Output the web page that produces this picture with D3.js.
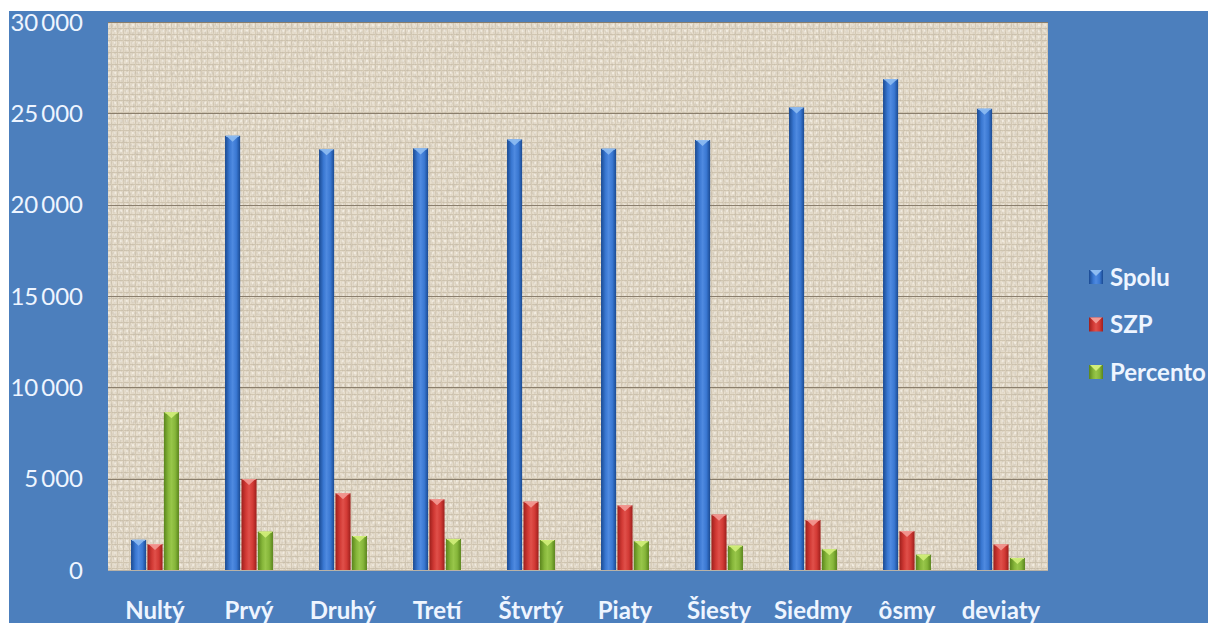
<!DOCTYPE html>
<html><head><meta charset="utf-8">
<script src="https://cdn.jsdelivr.net/npm/d3@7"></script>
<style>
html,body{margin:0;padding:0;background:#fff;overflow:hidden}
svg{display:block}
text{font-family:Lato,"Open Sans",sans-serif}
</style></head>
<body>
<svg id="c" width="1208" height="623"></svg>
<script>
const categories = ["Nultý","Prvý","Druhý","Tretí","Štvrtý","Piaty","Šiesty","Siedmy","ôsmy","deviaty"];
const seriesNames = ["Spolu","SZP","Percento"];
const spolu    = [1650, 23770, 23030, 23080, 23570, 23060, 23540, 25320, 26870, 25250];
const szp      = [1420, 4980, 4200, 3870, 3740, 3540, 3030, 2740, 2130, 1400];
const percento = [8630, 2100, 1860, 1700, 1640, 1570, 1330, 1130, 840, 660];
const yTicks = [0, 5000, 10000, 15000, 20000, 25000, 30000];

const seriesValues = [spolu, szp, percento];
const colors = [
  {edge:"#1a4a92", mid:"#3a78d2", light:"#4f8ae0", cap:"#8ebcf2"},
  {edge:"#9e1f1c", mid:"#d23a35", light:"#e0504a", cap:"#f39a94"},
  {edge:"#5a851c", mid:"#86b63a", light:"#98c64a", cap:"#d2ee7a"}
];

const svg = d3.select("#c");
const W = 1208, H = 623;
const m = {left:108, right:1048, top:22, bottom:570};

const defs = svg.append("defs");
const turb = defs.append("filter").attr("id","noise").attr("x",0).attr("y",0).attr("width","100%").attr("height","100%");
turb.append("feTurbulence").attr("type","fractalNoise").attr("baseFrequency","0.6 0.25").attr("numOctaves",2).attr("seed",3).attr("result","n");
turb.append("feColorMatrix").attr("type","matrix")
  .attr("values","0 0 0 0 0.45  0 0 0 0 0.40  0 0 0 0 0.32  0 0 0 -1.6 1.05");
const pat = defs.append("pattern").attr("id","weave").attr("width",6).attr("height",6).attr("patternUnits","userSpaceOnUse");
pat.append("rect").attr("width",6).attr("height",6).attr("fill","#e8dfcf");
pat.append("rect").attr("x",0).attr("y",4).attr("width",6).attr("height",1).attr("fill","#d2c7b2");
pat.append("rect").attr("x",3).attr("y",0).attr("width",1).attr("height",6).attr("fill","#d8cdb9");
pat.append("rect").attr("x",0).attr("y",0).attr("width",2).attr("height",2).attr("fill","#f2ece1");

colors.forEach((c,i)=>{
  const g = defs.append("linearGradient").attr("id","bar"+i).attr("x1","0").attr("x2","1").attr("y1","0").attr("y2","0");
  g.append("stop").attr("offset","0%").attr("stop-color",c.edge);
  g.append("stop").attr("offset","30%").attr("stop-color",c.mid);
  g.append("stop").attr("offset","50%").attr("stop-color",c.light);
  g.append("stop").attr("offset","75%").attr("stop-color",c.mid);
  g.append("stop").attr("offset","100%").attr("stop-color",c.edge);
});

svg.append("rect").attr("x",9).attr("y",11).attr("width",W-9).attr("height",H-11).attr("fill","#4c7fbd");
svg.append("rect").attr("x",m.left).attr("y",m.top).attr("width",m.right-m.left).attr("height",m.bottom-m.top).attr("fill","url(#weave)");
svg.append("rect").attr("x",m.left).attr("y",m.top).attr("width",m.right-m.left).attr("height",m.bottom-m.top).attr("filter","url(#noise)").attr("opacity",0.5);

const x0 = d3.scaleBand().domain(categories).range([m.left, m.right]).paddingInner(0.49).paddingOuter(0.245);
const x1 = d3.scaleBand().domain(d3.range(3)).range([0, x0.bandwidth()]).paddingInner(0.08);
const y = d3.scaleLinear().domain([0,30000]).range([m.bottom, m.top]);

svg.append("g").selectAll("line").data(yTicks.filter(d=>d>0)).join("line")
  .attr("x1",m.left).attr("x2",m.right).attr("y1",d=>Math.round(y(d))+0.5).attr("y2",d=>Math.round(y(d))+0.5)
  .attr("stroke","#8a7e6c").attr("stroke-width",1);
svg.append("line").attr("x1",m.left).attr("x2",m.right).attr("y1",m.bottom+0.5).attr("y2",m.bottom+0.5).attr("stroke","#b9b2a6");

const fmt = d => d3.format(",")(d).replace(/,/g,"\u2009");
svg.append("g").selectAll("text").data(yTicks).join("text")
  .attr("x",83).attr("y",d=>y(d)).attr("dy","0.36em").attr("text-anchor","end")
  .attr("fill","#eef5ff").attr("font-size",24).text(fmt);

const groups = svg.append("g").selectAll("g").data(categories).join("g")
  .attr("transform",d=>`translate(${x0(d)},0)`);
groups.each(function(cat, ci){
  const g = d3.select(this);
  seriesValues.forEach((vals, si)=>{
    const v = vals[ci];
    const bx = x1(si), bw = x1.bandwidth(), by = y(v), bh = y(0)-y(v);
    g.append("rect").attr("x",bx).attr("y",by).attr("width",bw).attr("height",bh).attr("fill",`url(#bar${si})`);
    g.append("path").attr("d",`M${bx+1},${by} L${bx+bw-1},${by} L${bx+bw/2},${by+Math.min(6,bh)} Z`)
      .attr("fill",colors[si].cap).attr("opacity",0.9);
    g.append("line").attr("x1",bx+1).attr("x2",bx+bw-1).attr("y1",by+0.5).attr("y2",by+0.5)
      .attr("stroke",colors[si].cap).attr("stroke-width",1);
  });
});

svg.append("g").selectAll("text").data(categories).join("text")
  .attr("x",d=>x0(d)+x0.bandwidth()/2).attr("y",619).attr("text-anchor","middle")
  .attr("fill","#eef5ff").attr("font-size",24).attr("font-weight","bold").text(d=>d);

const lg = svg.append("g").selectAll("g").data(seriesNames).join("g")
  .attr("transform",(d,i)=>`translate(1089,${277+i*47.5})`);
lg.append("rect").attr("x",0).attr("y",-7).attr("width",14).attr("height",14).attr("fill",(d,i)=>`url(#bar${i})`);
lg.append("path").attr("d","M1,-7 L13,-7 L7,-1 Z").attr("fill",(d,i)=>colors[i].cap);
lg.append("text").attr("x",21).attr("y",0).attr("dy","0.36em").attr("fill","#eef5ff").attr("font-size",24).attr("font-weight","bold").text(d=>d);
</script>
</body></html>
